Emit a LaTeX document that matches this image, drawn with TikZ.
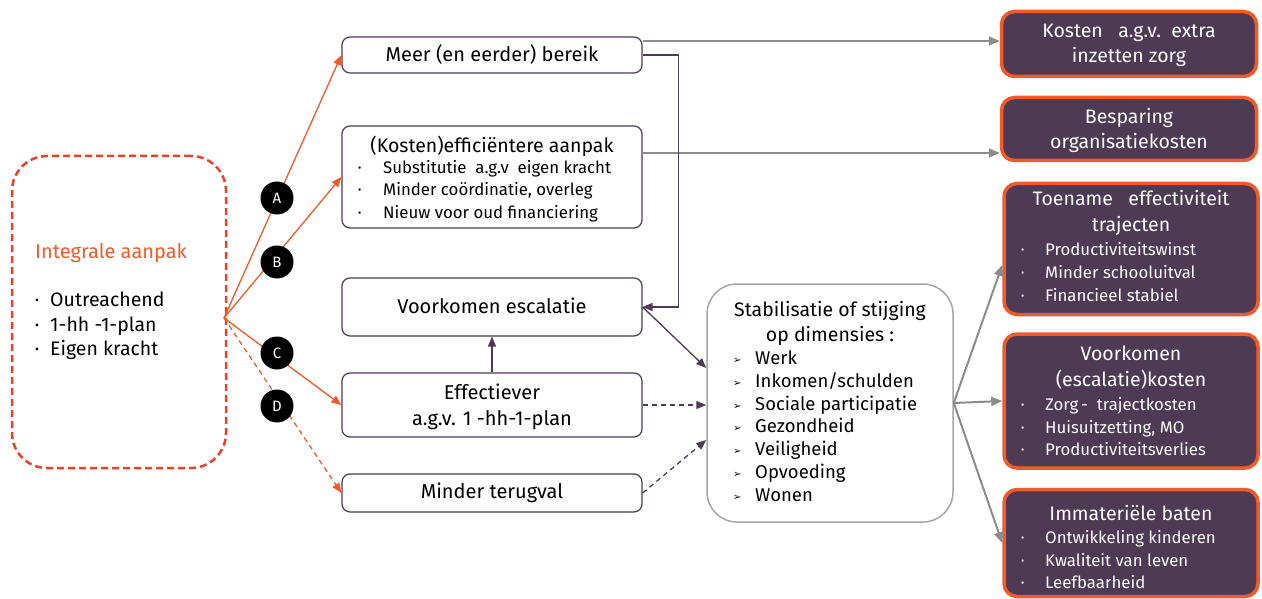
\documentclass[tikz,border=0pt]{standalone}
\usepackage{fontspec}
\setmainfont{Fira Sans}
\newfontfamily\symfont{DejaVu Sans}
\usetikzlibrary{arrows.meta}
\definecolor{orng}{HTML}{F15A29}
\definecolor{dred}{HTML}{E8412C}
\definecolor{plum}{HTML}{4F3A55}
\definecolor{lgray}{HTML}{8C8C8C}
\definecolor{bgray}{HTML}{A6A6A6}
\newcommand{\bul}{\makebox[24pt][l]{\fontsize{10}{10}\selectfont\raisebox{2pt}{•}}}
\newcommand{\arw}{\makebox[22pt][l]{\symfont\fontsize{10}{10}\selectfont\raisebox{1pt}{➢}}}
\begin{document}
\begin{tikzpicture}[x=1pt,y=-1pt,
  font=\fontsize{20}{24}\selectfont,
  wbox/.style={draw=plum, line width=1.2pt, rounded corners=8pt, fill=white, inner sep=0pt},
  obox/.style={draw=orng, line width=3.5pt, rounded corners=13pt, fill=plum, inner sep=0pt},
  wtxt/.style={text=white, inner sep=0pt},
  btxt/.style={text=black, inner sep=0pt},
  circ/.style={circle, fill=black, text=white, minimum size=33pt, inner sep=0pt, font=\fontsize{15}{15}\selectfont},
  oarr/.style={orng, line width=1.3pt, -{Triangle[length=10pt,width=8pt]}},
  garr/.style={lgray, line width=2pt, -{Triangle[length=11pt,width=9pt]}},
  parr/.style={plum, line width=1.3pt, -{Triangle[length=10pt,width=8pt]}},
  pdash/.style={parr, dash pattern=on 5pt off 4pt}
]
\useasboundingbox (0,0) rectangle (1262,599);

% left box
\node[draw=dred, line width=2.5pt, dash pattern=on 7pt off 4pt, rounded corners=35pt,
      minimum width=214pt, minimum height=312pt, inner sep=0pt] (left) at (119,312) {};
\node[anchor=west, text=orng, inner sep=0pt] (lt) at (35,253) {Integrale aanpak};
\node[anchor=west, align=left, inner sep=0pt, font=\fontsize{19.5}{24.5}\selectfont] (ll) at (35,326)
  {\makebox[15pt][l]{\fontsize{12}{12}\selectfont\raisebox{2pt}{•}}Outreachend\\
   \makebox[15pt][l]{\fontsize{12}{12}\selectfont\raisebox{2pt}{•}}1-hh -1-plan\\
   \makebox[15pt][l]{\fontsize{12}{12}\selectfont\raisebox{2pt}{•}}Eigen kracht};
\coordinate (o) at (224,318);

% middle boxes
\node[wbox, minimum width=300pt, minimum height=36pt] (meer) at (492,55) {};
\node[btxt] (meert) at (492,55) {Meer (en eerder) bereik};

\node[wbox, minimum width=300pt, minimum height=102pt] (keff) at (492,177) {};
\node[btxt, font=\fontsize{19.5}{24}\selectfont] (kefft) at (492,146) {(Kosten)efficiëntere aanpak};
\node[btxt, anchor=west, align=left, font=\fontsize{16.8}{22.5}\selectfont] (keffl) at (358,191)
  {\makebox[25pt][l]{\fontsize{10}{10}\selectfont\raisebox{2pt}{•}}Substitutie\ \ a.g.v\ \ eigen kracht\\
   \makebox[25pt][l]{\fontsize{10}{10}\selectfont\raisebox{2pt}{•}}Minder coördinatie, overleg\\
   \makebox[25pt][l]{\fontsize{10}{10}\selectfont\raisebox{2pt}{•}}Nieuw voor oud financiering};

\node[wbox, minimum width=300pt, minimum height=58pt] (esc) at (492,307) {};
\node[btxt] (esct) at (492,306) {Voorkomen escalatie};

\node[wbox, minimum width=300pt, minimum height=64pt] (eff) at (492,405) {};
\node[btxt, align=center, font=\fontsize{20}{26}\selectfont] (efft) at (492,407) {Effectiever\\a.g.v. 1 -hh-1-plan};

\node[wbox, minimum width=300pt, minimum height=38pt] (mind) at (492,493) {};
\node[btxt] (mindt) at (492,493) {Minder terugval};

% stabilisatie
\node[draw=bgray, line width=1.5pt, rounded corners=30pt, fill=white,
      minimum width=246pt, minimum height=238pt, inner sep=0pt] (stab) at (830,403) {};
\node[btxt, align=center, font=\fontsize{19.5}{25}\selectfont] (stabt) at (830,323) {Stabilisatie of stijging\\op dimensies :};
\node[btxt, anchor=west, align=left, font=\fontsize{18.5}{22.8}\selectfont] (stabl) at (733,426)
  {\arw Werk\\ \arw Inkomen/schulden\\ \arw Sociale participatie\\ \arw Gezondheid\\ \arw Veiligheid\\ \arw Opvoeding\\ \arw Wonen};

% right boxes
\node[obox, minimum width=255pt, minimum height=65pt] (k1) at (1129,44) {};
\node[wtxt, align=center, font=\fontsize{19.5}{25}\selectfont] (k1t) at (1129,45) {Kosten\ \ \ a.g.v.\ \ extra\\inzetten zorg};

\node[obox, minimum width=255pt, minimum height=63pt] (k2) at (1129,129) {};
\node[wtxt, align=center, font=\fontsize{19.5}{25}\selectfont] (k2t) at (1129,130) {Besparing\\organisatiekosten};

\node[obox, minimum width=254pt, minimum height=131pt] (k3) at (1131,249) {};
\node[wtxt, align=center, font=\fontsize{19.5}{26}\selectfont] (k3t) at (1131,213) {Toename\ \ \ effectiviteit\\trajecten};
\node[wtxt, anchor=west, align=left, font=\fontsize{16.8}{23}\selectfont] (k3l) at (1021,272)
  {\bul Productiviteitswinst\\ \bul Minder schooluitval\\ \bul Financieel stabiel};

\node[obox, minimum width=254pt, minimum height=134pt] (k4) at (1131,401) {};
\node[wtxt, align=center, font=\fontsize{19.5}{26}\selectfont] (k4t) at (1131,368) {Voorkomen\\(escalatie)kosten};
\node[wtxt, anchor=west, align=left, font=\fontsize{16.8}{22.5}\selectfont] (k4l) at (1021,427)
  {\bul Zorg\,-\ \ trajectkosten\\ \bul Huisuitzetting, MO\\ \bul Productiviteitsverlies};

\node[obox, minimum width=254pt, minimum height=107pt] (k5) at (1131,543) {};
\node[wtxt, font=\fontsize{19.5}{24}\selectfont] (k5t) at (1131,513) {Immateriële baten};
\node[wtxt, anchor=west, align=left, font=\fontsize{16.8}{22.5}\selectfont] (k5l) at (1021,560)
  {\bul Ontwikkeling kinderen\\ \bul Kwaliteit van leven\\ \bul Leefbaarheid};

% fan arrows
\draw[oarr] (o) -- (meer.west);
\draw[oarr] (o) -- (keff.west);
\draw[oarr] (o) -- (eff.west);
\draw[oarr, dash pattern=on 5pt off 4pt] (o) -- (mind.west);
\node[circ] (ca) at (277,198) {A};
\node[circ] (cb) at (277,262) {B};
\node[circ] (cc) at (277,353) {C};
\node[circ] (cd) at (277,406) {D};

% other connectors
\coordinate (m1) at ([yshift=14pt]meer.east);
\draw[garr] (m1) -- (m1 -| k1.west);
\coordinate (m2) at ([yshift=24pt]keff.east);
\draw[garr] (m2) -- (m2 -| k2.west);
\draw[parr] (meer.east) -- ++(36,0) |- (esc.east);
\draw[parr] (eff.north) -- (esc.south);
\draw[parr] (esc.east) -- ([yshift=35pt]stab.west);
\draw[pdash] (eff.east) -- (eff.east -| stab.west);
\draw[pdash] (mind.east) -- ([yshift=-37pt]stab.west);
\draw[garr] (stab.east) -- ([yshift=-16pt]k3.west);
\draw[garr] (stab.east) -- (k4.west);
\draw[garr] (stab.east) -- (k5.west);
\end{tikzpicture}
\end{document}
